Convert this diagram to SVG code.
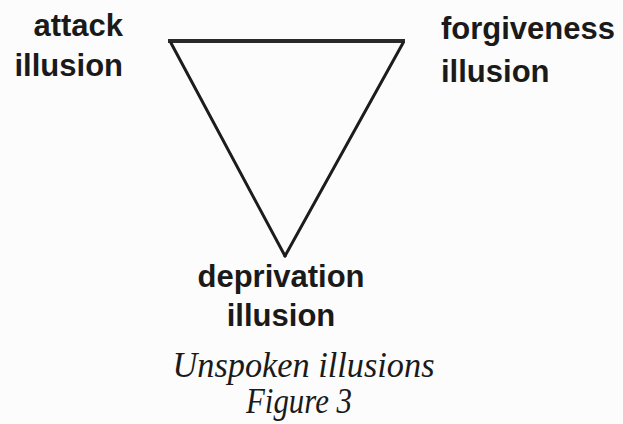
<svg xmlns="http://www.w3.org/2000/svg" width="623" height="424" viewBox="0 0 623 424">
  <style>
    .lbl { font-family: "Liberation Sans", Arial, sans-serif; font-weight: bold; font-size: 31px; fill: #1a1a1a; }
    .cap { font-family: "Liberation Serif", "Times New Roman", serif; font-style: italic; font-size: 35px; fill: #1a1a1a; }
    .edge { stroke: #1c1c1c; stroke-width: 3; stroke-linecap: round; fill: none; }
    .top { stroke: #2a2a2a; stroke-width: 4; fill: none; }
  </style>
  <rect width="623" height="424" fill="#fcfcfc"/>
  <g id="connectors">
    <line class="top" x1="168" y1="41" x2="405" y2="41"/>
    <line class="edge" x1="171" y1="43" x2="285" y2="256"/>
    <line class="edge" x1="403" y1="43" x2="285" y2="256"/>
  </g>
  <g id="node-attack">
    <text class="lbl" x="123" y="36" text-anchor="end">attack</text>
    <text class="lbl" x="123" y="76" text-anchor="end">illusion</text>
  </g>
  <g id="node-forgiveness">
    <text class="lbl" x="441" y="39">forgiveness</text>
    <text class="lbl" x="441" y="82">illusion</text>
  </g>
  <g id="node-deprivation">
    <text class="lbl" x="281" y="287" text-anchor="middle">deprivation</text>
    <text class="lbl" x="281" y="326" text-anchor="middle">illusion</text>
  </g>
  <g id="caption">
    <text class="cap" x="303.5" y="377" text-anchor="middle" textLength="262" lengthAdjust="spacingAndGlyphs">Unspoken illusions</text>
    <text class="cap" x="299" y="413" text-anchor="middle" textLength="106" lengthAdjust="spacingAndGlyphs">Figure 3</text>
  </g>
</svg>
